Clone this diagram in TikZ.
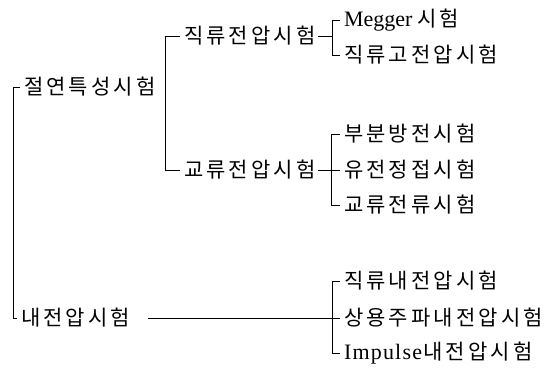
\documentclass[tikz,border=0pt]{standalone}
\usepackage{fontspec}
\newfontfamily\kr{Noto Sans CJK KR}
\newfontfamily\lat{Liberation Serif}
% fixed-pitch setting of Korean characters
\def\ks#1{\ksx#1\relax}
\def\ksx#1{\ifx\relax#1\else\makebox[22.5pt][l]{#1}\expandafter\ksx\fi}
% letter-spaced Latin
\def\ls#1{\lsx#1\relax}
\def\lsx#1{\ifx\relax#1\else#1\hskip1.2pt\expandafter\lsx\fi}
\begin{document}
\begin{tikzpicture}[x=1pt,y=-1pt,
  lbl/.style={anchor=west,inner sep=0pt,outer sep=4pt,
    font=\fontsize{21}{23}\selectfont\kr},
  latin/.style={font=\fontsize{22}{24}\selectfont\lat},
  br/.style={line width=1pt}]
\useasboundingbox (0,0) rectangle (544,370);
% coordinates for bracket spines
\coordinate (b1) at (13,0);
\coordinate (b2) at (165,0);
\coordinate (b3) at (332,0);
\coordinate (b4) at (331,0);
\coordinate (b5) at (332,0);
% level 1
\node[lbl] (n0) at (20,87) {\ks{절연특성시험}};
\node[lbl] (n1) at (17,318) {\ks{내전압시험}};
% level 2
\node[lbl] (n00) at (180,36) {\ks{직류전압시험}};
\node[lbl] (n01) at (180,170) {\ks{교류전압시험}};
% level 3
\node[lbl] (n000) at (340,20) {{\fontsize{22}{24}\selectfont\lat Megger}\hspace{5pt}\ks{시험}};
\node[lbl] (n001) at (340,55) {\ks{직류고전압시험}};
\node[lbl] (n010) at (340,134) {\ks{부분방전시험}};
\node[lbl] (n011) at (340,170) {\ks{유전정접시험}};
\node[lbl] (n012) at (340,205) {\ks{교류전류시험}};
\node[lbl] (n100) at (340,281) {\ks{직류내전압시험}};
\node[lbl] (n101) at (340,318) {\ks{상용주파내전압시험}};
\node[lbl] (n102) at (340,353) {{\fontsize{22}{24}\selectfont\lat\ls{Impulse}}\ks{내전압시험}};
% brackets
\draw[br] (n0.west) -- (n0.west -| b1) -- (n1.west -| b1) -- (n1.west);
\draw[br] (n00.west) -- (n00.west -| b2) -- (n01.west -| b2) -- (n01.west);
\draw[br] (n000.west) -- (n000.west -| b3) -- (n001.west -| b3) -- (n001.west);
\draw[br] ([xshift=-5pt]n00.east) -- (n00.east -| b3);
\draw[br] (n010.west) -- (n010.west -| b4) -- (n012.west -| b4) -- (n012.west);
\draw[br] ([xshift=-5pt]n01.east) -- (n011.west);
\draw[br] (n100.west) -- (n100.west -| b5) -- (n102.west -| b5) -- (n102.west);
\draw[br] ([xshift=10pt]n1.east) -- (n101.west);
\end{tikzpicture}
\end{document}
